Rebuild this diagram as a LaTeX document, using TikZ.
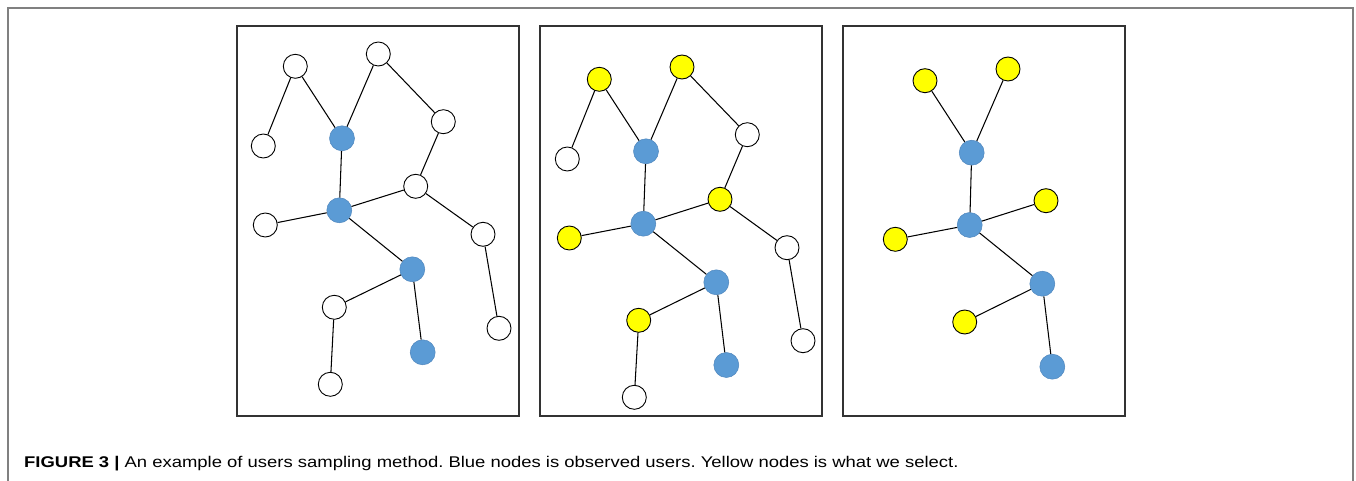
\documentclass[tikz,border=0pt]{standalone}
\usepackage{fontspec}
\setmainfont{Liberation Sans}
\newfontfamily\capfont[FakeStretch=1.19]{Liberation Sans}
\definecolor{nblue}{HTML}{5B9BD5}
\definecolor{nblueb}{HTML}{4F86BD}
\definecolor{nyel}{HTML}{FFFF00}
\definecolor{framegray}{HTML}{808080}
\definecolor{panelgray}{HTML}{333333}
\begin{document}
\begin{tikzpicture}[x=1pt,y=-1pt,
  nd/.style={circle,inner sep=0pt,minimum size=24pt,line width=0.9pt},
  wn/.style={nd,draw=black,fill=white},
  bn/.style={nd,draw=nblueb,line width=0.5pt,fill=nblue,minimum size=25pt},
  yn/.style={nd,draw=black,fill=nyel},
  ed/.style={draw=black,line width=1.05pt},
  panel/.style={draw=panelgray,line width=1.4pt},
  outer/.style={draw=framegray,line width=1.6pt}]
\useasboundingbox (0,0) rectangle (1356,481);
\draw[outer] (8,481) -- (8,8) -- (1353,8) -- (1353,481);
% panels
\draw[panel] (237,26) rectangle (519,416);
\draw[panel] (540,26) rectangle (822,416);
\draw[panel] (843,26) rectangle (1125,416);
% panel 1
\node[wn] (a1) at (295.3,66.3) {};
\node[wn] (b1) at (378.3,54) {};
\node[wn] (c1) at (263.3,146) {};
\node[bn] (d1) at (342,138.3) {};
\node[wn] (e1) at (443.3,121.7) {};
\node[wn] (f1) at (415.7,186.3) {};
\node[bn] (g1) at (339.3,210.3) {};
\node[wn] (h1) at (265.3,225) {};
\node[wn] (i1) at (483,234.3) {};
\node[bn] (j1) at (412.3,269.3) {};
\node[wn] (k1) at (334.3,307.3) {};
\node[wn] (l1) at (499,328.3) {};
\node[bn] (m1) at (422.7,352.3) {};
\node[wn] (n1) at (330.3,384.3) {};
\foreach \u/\v in {a1/c1,a1/d1,b1/d1,b1/e1,e1/f1,d1/g1,g1/f1,g1/h1,f1/i1,i1/l1,g1/j1,j1/k1,k1/n1,j1/m1}
  \draw[ed] (\u) -- (\v);
% panel 2
\node[yn] (a2) at (599.3,79.3) {};
\node[yn] (b2) at (682,67) {};
\node[wn] (c2) at (567.3,159) {};
\node[bn] (d2) at (646,151.3) {};
\node[wn] (e2) at (747.3,134.7) {};
\node[yn] (f2) at (720,199.3) {};
\node[bn] (g2) at (643.3,223.7) {};
\node[yn] (h2) at (569.3,238) {};
\node[wn] (i2) at (787,247.7) {};
\node[bn] (j2) at (716.3,282.3) {};
\node[yn] (k2) at (638.7,320.3) {};
\node[wn] (l2) at (803,340.7) {};
\node[bn] (m2) at (726.3,365) {};
\node[wn] (n2) at (634.3,397.3) {};
\foreach \u/\v in {a2/c2,a2/d2,b2/d2,b2/e2,e2/f2,d2/g2,g2/f2,g2/h2,f2/i2,i2/l2,g2/j2,j2/k2,k2/n2,j2/m2}
  \draw[ed] (\u) -- (\v);
% panel 3
\node[yn] (a3) at (925,80.7) {};
\node[yn] (b3) at (1008,69) {};
\node[bn] (d3) at (971.7,152.7) {};
\node[yn] (f3) at (1046,200.7) {};
\node[bn] (g3) at (969.7,225) {};
\node[yn] (h3) at (895.3,239.3) {};
\node[bn] (j3) at (1042.3,283.7) {};
\node[yn] (k3) at (964.7,322) {};
\node[bn] (m3) at (1052.3,366.7) {};
\foreach \u/\v in {a3/d3,b3/d3,d3/g3,g3/f3,g3/h3,g3/j3,j3/k3,j3/m3}
  \draw[ed] (\u) -- (\v);
% caption
\node[anchor=base west,inner sep=0pt,font=\capfont\fontsize{15.5}{18}\selectfont] (cap) at (24,467)
  {\frenchspacing\textbf{FIGURE 3 |} An example of users sampling method. Blue nodes is observed users. Yellow nodes is what we select.};
\end{tikzpicture}
\end{document}
